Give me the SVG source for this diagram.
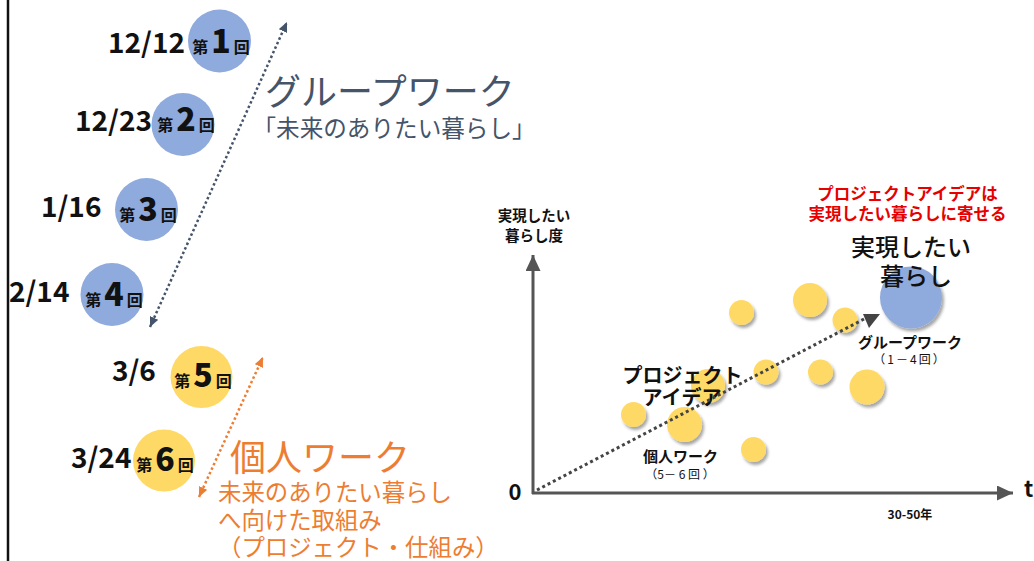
<svg xmlns="http://www.w3.org/2000/svg" width="1034" height="561" viewBox="0 0 1034 561">
<defs>
<style>
text{font-family:"Noto Sans CJK JP","Noto Sans",sans-serif;}
.date{font-size:28px;font-weight:bold;fill:#111;}
.sm{font-size:16px;font-weight:bold;}
.num{font-size:32px;font-weight:900;}
.c{text-anchor:middle;fill:#111;}
.blue{fill:#8FAADC;}
.yel{fill:#FFD966;}
.navy{fill:#44546A;}
.orng{fill:#ED7D31;}
.bub{fill:#FFD966;filter:url(#sh);}
.b{font-weight:bold;}
</style>
<filter id="sh" x="-30%" y="-30%" width="170%" height="170%">
<feDropShadow dx="2" dy="3" stdDeviation="1.5" flood-color="#000" flood-opacity="0.35"/>
</filter>
<marker id="mNavy" viewBox="0 0 10 9" refX="10" refY="4.5" markerWidth="10" markerHeight="9" markerUnits="userSpaceOnUse" orient="auto-start-reverse"><path d="M0,0 L10,4.5 L0,9 z" fill="#44546A"/></marker>
<marker id="mOr" viewBox="0 0 10 9" refX="10" refY="4.5" markerWidth="10" markerHeight="9" markerUnits="userSpaceOnUse" orient="auto-start-reverse"><path d="M0,0 L10,4.5 L0,9 z" fill="#ED7D31"/></marker>
<marker id="mAx" viewBox="0 0 16 15" refX="16" refY="7.5" markerWidth="16" markerHeight="15" markerUnits="userSpaceOnUse" orient="auto"><path d="M0,0 L16,7.5 L0,15 z" fill="#555"/></marker>
</defs>
<rect width="1034" height="561" fill="#fff"/>
<line x1="8" y1="0" x2="8" y2="561" stroke="#111" stroke-width="2.5"/>

<g id="session1"><circle class="blue" cx="219.5" cy="41" r="31.5"/><text class="c" x="221" y="53"><tspan class="sm">第</tspan><tspan class="num" dx="3">1</tspan><tspan class="sm" dx="3">回</tspan></text><text class="date" x="108" y="53">12/12</text></g>
<g id="session2"><circle class="blue" cx="183" cy="124.5" r="31.5"/><text class="c" x="186" y="131"><tspan class="sm">第</tspan><tspan class="num" dx="3">2</tspan><tspan class="sm" dx="3">回</tspan></text><text class="date" x="75" y="131">12/23</text></g>
<g id="session3"><circle class="blue" cx="146.5" cy="209.5" r="31.5"/><text class="c" x="148" y="221"><tspan class="sm">第</tspan><tspan class="num" dx="3">3</tspan><tspan class="sm" dx="3">回</tspan></text><text class="date" x="41" y="217">1/16</text></g>
<g id="session4"><circle class="blue" cx="112" cy="294.5" r="31.5"/><text class="c" x="114" y="306"><tspan class="sm">第</tspan><tspan class="num" dx="3">4</tspan><tspan class="sm" dx="3">回</tspan></text><text class="date" x="9" y="302">2/14</text></g>
<g id="session5"><circle class="yel" cx="201.5" cy="377" r="31"/><text class="c" x="203" y="387"><tspan class="sm">第</tspan><tspan class="num" dx="3">5</tspan><tspan class="sm" dx="3">回</tspan></text><text class="date" x="112" y="381">3/6</text></g>
<g id="session6"><circle class="yel" cx="164" cy="460.5" r="31"/><text class="c" x="165" y="471"><tspan class="sm">第</tspan><tspan class="num" dx="3">6</tspan><tspan class="sm" dx="3">回</tspan></text><text class="date" x="71" y="468">3/24</text></g>

<g id="group-work-label">
<text class="navy" x="265" y="105" font-size="36">グループワーク</text>
<text class="navy" x="252.5" y="137" font-size="23.6">「未来のありたい暮らし」</text>
</g>
<g id="individual-work-label">
<text class="orng" x="230" y="471" font-size="36">個人ワーク</text>
<text class="orng" x="218" y="501" font-size="23.4">未来のありたい暮らし</text>
<text class="orng" x="218" y="529" font-size="23.4">へ向けた取組み</text>
<text class="orng" x="218" y="556" font-size="23.4">（プロジェクト・仕組み）</text>
</g>

<g id="chart">
<g id="axis-labels">
<text class="c b" x="534" y="221" font-size="14.5">実現したい</text>
<text class="c b" x="534" y="241" font-size="14.5">暮らし度</text>
<text class="c b" x="515" y="500" font-size="22">0</text>
<text class="b" x="1024" y="497" font-size="22" fill="#111">t</text>
<text class="c b" x="910" y="519" font-size="12">30-50年</text>
</g>
<g id="bubbles">
<circle class="bub" cx="741.5" cy="312.5" r="12.5"/>
<circle class="bub" cx="810" cy="300" r="17"/>
<circle class="bub" cx="845" cy="320" r="12.5"/>
<circle class="bub" cx="766" cy="372" r="12.5"/>
<circle class="bub" cx="820.5" cy="372" r="12.5"/>
<circle class="bub" cx="867" cy="387" r="17.5"/>
<circle class="bub" cx="708" cy="386" r="17"/>
<circle class="bub" cx="633.5" cy="414.5" r="12.5"/>
<circle class="bub" cx="684.5" cy="424.5" r="17.5"/>
<circle class="bub" cx="753.5" cy="449.5" r="12.5"/>
<circle fill="#8FAADC" filter="url(#sh)" cx="911" cy="297.5" r="31"/>
</g>
<g id="chart-labels">
<text class="c" x="907.5" y="200" font-size="16.5" font-weight="bold" fill="#E60000" style="fill:#E60000">プロジェクトアイデアは</text>
<text class="c" x="907.5" y="220" font-size="16.5" font-weight="bold" style="fill:#E60000">実現したい暮らしに寄せる</text>
<text class="c" x="911" y="256" font-size="24" font-weight="500">実現したい</text>
<text class="c" x="916" y="285" font-size="24" font-weight="500">暮らし</text>
<text class="c b" x="682.5" y="383" font-size="20">プロジェクト</text>
<text class="c b" x="682" y="405" font-size="20">アイデア</text>
<text class="c b" x="680.5" y="462" font-size="15">個人ワーク</text>
<text class="c" x="680" y="479" font-size="12">（5－ 6 回 ）</text>
<text class="c b" x="910" y="348" font-size="15">グループワーク</text>
<text class="c" x="910" y="364" font-size="12" letter-spacing="2">（1－4回）</text>
</g>
</g>

<g id="connectors">
<line x1="150" y1="327" x2="287" y2="22" stroke="#44546A" stroke-width="2.5" stroke-dasharray="2.5 2.5" marker-start="url(#mNavy)" marker-end="url(#mNavy)"/>
<line x1="199" y1="497" x2="263" y2="357" stroke="#ED7D31" stroke-width="2.5" stroke-dasharray="2.5 2.5" marker-start="url(#mOr)" marker-end="url(#mOr)"/>
<line x1="533" y1="494" x2="533" y2="255" stroke="#555" stroke-width="3" marker-end="url(#mAx)"/>
<line x1="532" y1="493" x2="1013" y2="493" stroke="#555" stroke-width="3" marker-end="url(#mAx)"/>
<line x1="537" y1="490" x2="866" y2="318" stroke="#444" stroke-width="3" stroke-dasharray="3 3"/>
<polygon points="863,314 880,314 869,328" fill="#444"/>
</g>
</svg>
